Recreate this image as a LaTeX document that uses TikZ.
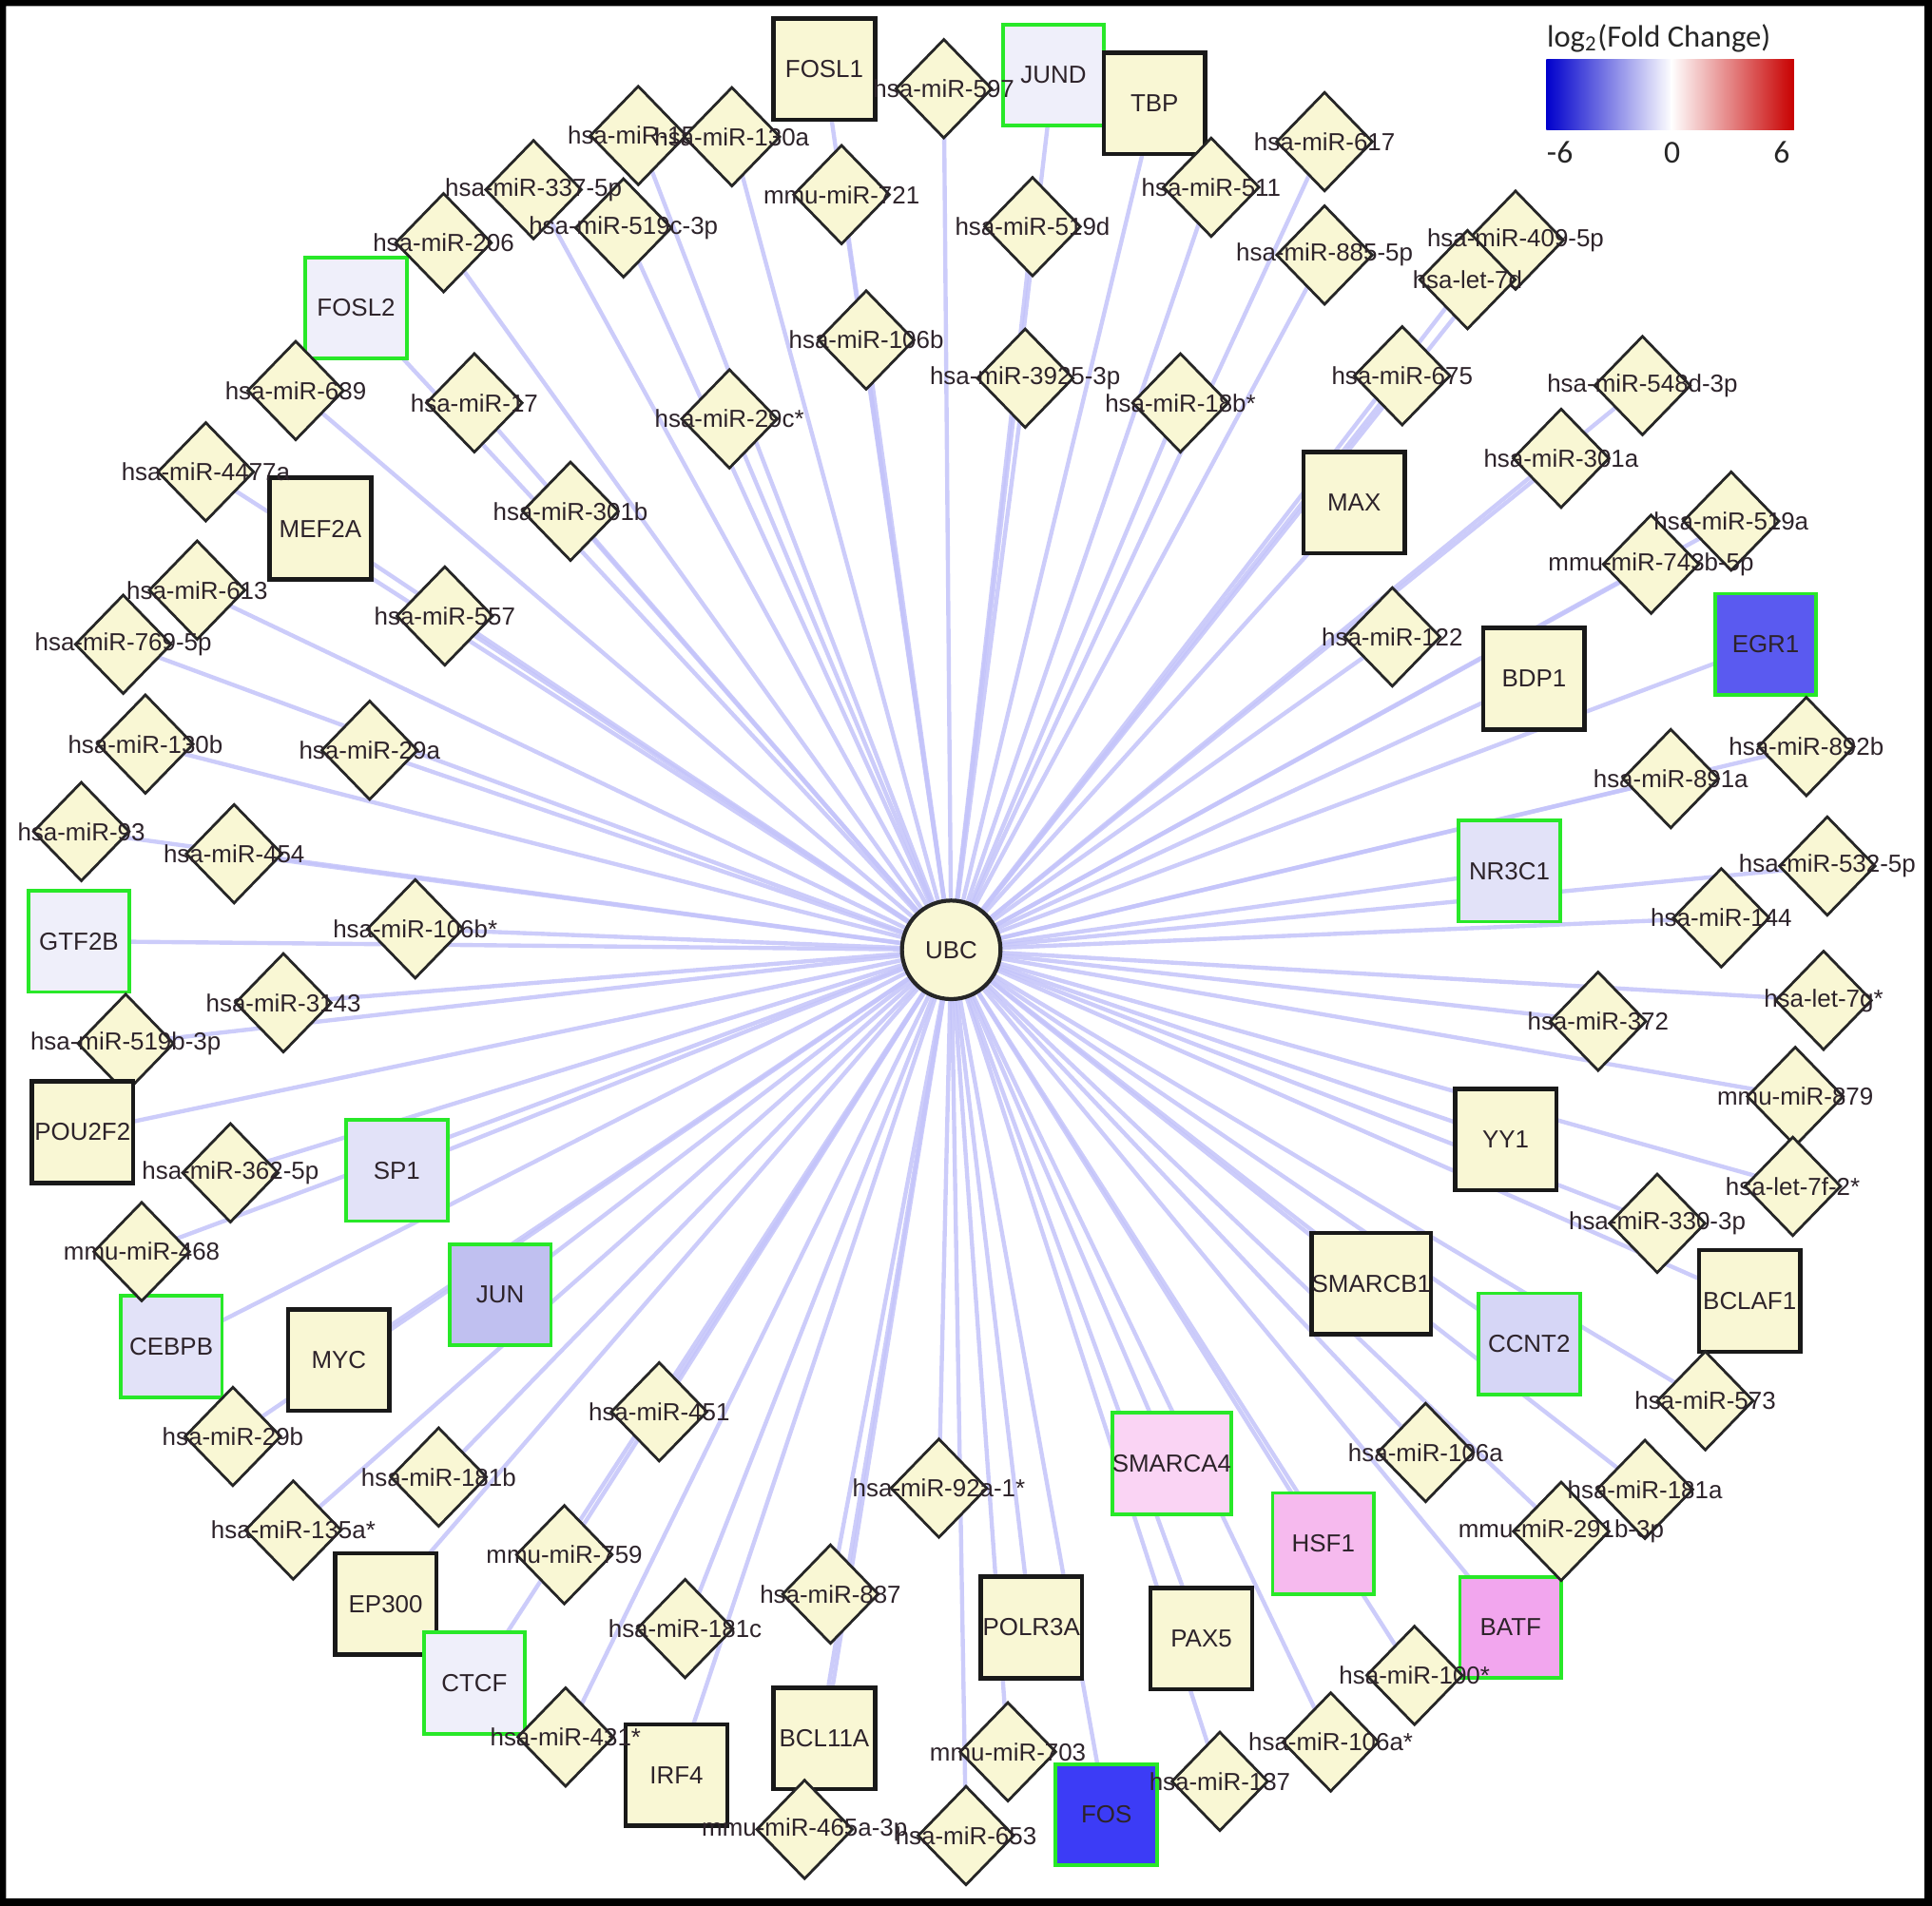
\documentclass[tikz,border=0pt]{standalone}
\usepackage{fontspec}
\setmainfont{Liberation Sans}
\newfontfamily\legendfont{Carlito}
\usetikzlibrary{shapes.geometric}
\pgfdeclarelayer{bg}
\pgfsetlayers{bg,main}
\definecolor{nodefill}{RGB}{249,247,212}
\definecolor{txt}{RGB}{45,35,42}
\definecolor{edgecol}{RGB}{196,196,250}
\definecolor{grn}{RGB}{40,232,40}
\definecolor{lavA}{RGB}{239,239,250}
\definecolor{lavB}{RGB}{226,226,248}
\definecolor{lavC}{RGB}{214,214,246}
\definecolor{lavD}{RGB}{192,192,240}
\definecolor{blueA}{RGB}{90,90,240}
\definecolor{blueB}{RGB}{60,60,246}
\definecolor{pinkA}{RGB}{250,212,244}
\definecolor{pinkB}{RGB}{246,186,238}
\definecolor{pinkC}{RGB}{242,166,238}
\definecolor{lgblue}{RGB}{0,0,204}
\definecolor{lgred}{RGB}{200,0,0}
\tikzset{
  mir/.style={diamond, aspect=1, draw=black!85, line width=0.8pt, fill=nodefill,
    minimum width=1.02cm, minimum height=1.05cm, inner sep=0pt},
  tf/.style={rectangle, draw=black!90, line width=1.3pt, fill=nodefill,
    minimum width=1.07cm, minimum height=1.07cm, inner sep=0pt,
    font=\fontsize{7.4}{8}\selectfont, text=txt},
  tfg/.style={tf, draw=grn, line width=1.1pt},
  lab/.style={font=\fontsize{7.4}{8}\selectfont, text=txt, inner sep=0pt},
  edge/.style={draw=edgecol, line width=1.25pt, opacity=0.85},
  hub/.style={circle, draw=black!85, line width=1.2pt, fill=nodefill,
    minimum size=1.04cm, inner sep=0pt, font=\fontsize{7.4}{8}\selectfont, text=txt},
  legtext/.style={font=\legendfont\fontsize{9.6}{11}\selectfont, text=black!85, inner sep=0pt}
}
\def\mirlist{%
m2/594/111/hsa-miR-130a, m3/433/154/hsa-miR-337-5p,
m4/506/185/hsa-miR-519c-3p, m5/360/197/hsa-miR-206, m6/766/72/hsa-miR-597,
m7/683/158/mmu-miR-721, m8/838/184/hsa-miR-519d, m9/983/152/hsa-miR-511,
m10/1075/115/hsa-miR-617, m11/1075/207/hsa-miR-885-5p, m12/1230/195/hsa-miR-409-5p,
m13/1191/227/hsa-let-7d, m14/703/276/hsa-miR-106b, m15/832/307/hsa-miR-3925-3p,
m16/958/327/hsa-miR-18b*, m17/592/340/hsa-miR-29c*, m18/385/327/hsa-miR-17,
m19/240/317/hsa-miR-639, m20/1138/305/hsa-miR-675, m21/1333/313/hsa-miR-548d-3p,
m22/1267/372/hsa-miR-301a, m23/1405/423/hsa-miR-519a, m24/1340/458/mmu-miR-743b-5p,
m25/1130/517/hsa-miR-122, m26/1466/606/hsa-miR-892b, m27/1356/632/hsa-miR-891a,
m28/1483/703/hsa-miR-532-5p, m29/1397/745/hsa-miR-144, m30/1480/812/hsa-let-7g*,
m31/1297/829/hsa-miR-372, m32/1457/890/mmu-miR-879, m33/1455/963/hsa-let-7f-2*,
m34/1345/993/hsa-miR-330-3p, m35/1384/1137/hsa-miR-573, m36/1157/1179/hsa-miR-106a,
m37/1335/1209/hsa-miR-181a, m38/1267/1243/mmu-miR-291b-3p, m39/1148/1360/hsa-miR-100*,
m40/1080/1414/hsa-miR-106a*, m41/990/1446/hsa-miR-137, m42/818/1422/mmu-miR-703,
m43/784/1490/hsa-miR-653, m44/653/1485/mmu-miR-465a-3p, m45/762/1208/hsa-miR-92a-1*,
m46/674/1294/hsa-miR-887, m47/556/1322/hsa-miR-181c, m48/535/1146/hsa-miR-451,
m49/459/1410/hsa-miR-431*, m50/458/1262/mmu-miR-759, m51/356/1199/hsa-miR-181b,
m52/238/1242/hsa-miR-135a*, m53/189/1166/hsa-miR-29b, m54/115/1016/mmu-miR-468,
m55/187/952/hsa-miR-362-5p, m56/102/847/hsa-miR-519b-3p, m57/230/814/hsa-miR-3143,
m58/337/754/hsa-miR-106b*, m59/66/675/hsa-miR-93, m60/190/693/hsa-miR-454,
m61/118/604/hsa-miR-130b, m62/300/609/hsa-miR-29a, m63/100/523/hsa-miR-769-5p,
m64/160/479/hsa-miR-613, m65/361/500/hsa-miR-557, m66/167/383/hsa-miR-4477a,
m67/463/415/hsa-miR-301b}
\def\tflist{%
FOSL1/669/56/tf/nodefill, JUND/855/61/tfg/lavA, TBP/937/84/tf/nodefill,
FOSL2/289/250/tfg/lavA, MAX/1099/408/tf/nodefill, BDP1/1245/551/tf/nodefill,
EGR1/1433/523/tfg/blueA, NR3C1/1225/707/tfg/lavB, YY1/1222/925/tf/nodefill,
SMARCB1/1113/1042/tf/nodefill, BCLAF1/1420/1056/tf/nodefill, CCNT2/1241/1091/tfg/lavC,
SMARCA4/951/1188/tfg/pinkA, HSF1/1074/1253/tfg/pinkB, BATF/1226/1321/tfg/pinkC,
PAX5/975/1330/tf/nodefill, POLR3A/837/1321/tf/nodefill, FOS/898/1473/tfg/blueB,
BCL11A/669/1411/tf/nodefill, IRF4/549/1441/tf/nodefill, EP300/313/1302/tf/nodefill,
CTCF/385/1366/tfg/lavA, JUN/406/1051/tfg/lavD, MYC/275/1104/tf/nodefill,
CEBPB/139/1093/tfg/lavB, SP1/322/950/tfg/lavB, GTF2B/64/764/tfg/lavA}
\begin{document}
\begin{tikzpicture}[x=0.013cm, y=-0.013cm]
\useasboundingbox (0,0) rectangle (1568,1547);
\begin{pgfonlayer}{bg}
\fill[white] (0,0) rectangle (1568,1547);
\end{pgfonlayer}
% hub
\node[hub] (ubc) at (772,771) {UBC};
% transcription factors (most)
\foreach \n/\x/\y/\s/\c in \tflist {
  \node[\s, fill=\c] (\n) at (\x,\y) {\n};
}
% miRNA whose label is partly covered by its neighbour
\node[mir] (m1) at (518,110) {};
\node[lab] (m1lab) at (m1) {hsa-miR-154};
% miRNA diamonds
\foreach \n/\x/\y/\t in \mirlist {
  \node[mir] (\n) at (\x,\y) {};
}
% boxes drawn above neighbouring diamonds
\node[tf] (MEF2A) at (260,429) {MEF2A};
\node[tf] (POU2F2) at (67,919) {POU2F2};
% miRNA labels
\foreach \n/\x/\y/\t in \mirlist {
  \node[lab] at (\n) {\t};
}
% connectors
\begin{pgfonlayer}{bg}
\draw[edge] (ubc.center) -- (m1.center);
\foreach \n/\x/\y/\t in \mirlist {
  \draw[edge] (ubc.center) -- (\n.center);
}
\foreach \n/\x/\y/\s/\c in \tflist {
  \draw[edge] (ubc.center) -- (\n.center);
}
\draw[edge] (ubc.center) -- (MEF2A.center);
\draw[edge] (ubc.center) -- (POU2F2.center);
\end{pgfonlayer}
% legend
\node[legtext, anchor=west, font=\legendfont\fontsize{9.3}{11}\selectfont] (lgtitle) at (1255,31) {log\textsubscript{2}(Fold Change)};
\shade[left color=lgblue, right color=white] (1255,48) rectangle (1357,105);
\shade[left color=white, right color=lgred] (1356,48) rectangle (1456,105);
\node[legtext] (lgm) at (1266,124) {-6};
\node[legtext] (lgz) at (1357,124) {0};
\node[legtext] (lgp) at (1446,124) {6};
% frame
\fill[black, even odd rule] (0,0) rectangle (1568,1547) (5,5) rectangle (1562,1541);
\end{tikzpicture}
\end{document}
